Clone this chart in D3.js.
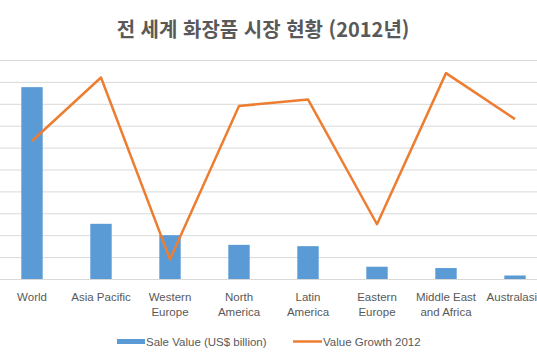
<!DOCTYPE html>
<html lang="ko">
<head>
  <meta charset="utf-8">
  <title>전 세계 화장품 시장 현황</title>
  <script src="https://d3js.org/d3.v7.min.js"></script>
  <style>
    body { margin: 0; background: #fff; }
    svg { display: block; }
  </style>
</head>
<body>
  <div id="chart"></div>

  <script type="text/javascript">
    "use strict"

    // dados
    var regioes = ["World", "Asia Pacific", "Western Europe", "North America",
                   "Latin America", "Eastern Europe", "Middle East and Africa", "Australasia"];
    var vendas = [438, 126, 100, 78, 75, 28, 25, 8];          // Sale Value (US$ billion)
    var crescimento = [6.3, 9.2, 0.9, 7.9, 8.2, 2.5, 9.4, 7.3]; // Value Growth 2012
    var legendas = ["Sale Value (US$ billion)", "Value Growth 2012"];

    var larguraSVG = 537, alturaSVG = 360;
    var topo = 60, base = 279;

    var svg = d3.select('#chart')
      .append('svg')
        .attr('width', larguraSVG)
        .attr('height', alturaSVG);

    // titulo
    svg.append('text')
      .attr('x', 263)
      .attr('y', 37)
      .attr('text-anchor', 'middle')
      .style('font-family', '"Noto Sans CJK KR", sans-serif')
      .style('font-weight', 'bold')
      .style('font-size', '20px')
      .style('fill', '#595959')
      .text('전 세계 화장품 시장 현황 (2012년)');

    // escalas
    var x = d3.scaleBand()
              .domain(regioes)
              .range([-2.5, 549.5])
              .paddingInner(0.69)
              .paddingOuter(0.345);

    var yBarra = d3.scaleLinear().domain([0, 500]).range([base, topo]);
    var yLinha = d3.scaleLinear().domain([0, 10]).range([base, topo]);

    // grade
    var grade = svg.append('g')
      .call(d3.axisLeft(yBarra).ticks(10).tickSize(-larguraSVG).tickFormat(''));
    grade.select('.domain').remove();
    grade.selectAll('.tick line').attr('stroke', '#d9d9d9').attr('stroke-width', 1)
      .attr('transform', 'translate(0,0)');

    // barras
    svg.selectAll('rect.barra')
      .data(vendas)
      .enter()
        .append('rect')
          .attr('class', 'barra')
          .attr('x', (d, i) => x(regioes[i]))
          .attr('y', d => yBarra(d))
          .attr('width', x.bandwidth())
          .attr('height', d => base - yBarra(d))
          .style('fill', '#5b9bd5');

    // linha
    var linha = d3.line()
      .x((d, i) => x(regioes[i]) + x.bandwidth() / 2)
      .y(d => yLinha(d));

    svg.append('path')
      .datum(crescimento)
      .attr('d', linha)
      .attr('fill', 'none')
      .attr('stroke', '#ed7d31')
      .attr('stroke-width', 2.5)
      .attr('stroke-linejoin', 'round');

    // eixo x (so os rotulos)
    var eixoX = svg.append('g')
      .attr('transform', 'translate(0,' + base + ')')
      .call(d3.axisBottom(x).tickSize(0).tickPadding(0));
    eixoX.select('.domain').remove();
    eixoX.selectAll('text')
      .style('font-family', '"Liberation Sans", Arial, sans-serif')
      .style('font-size', '11.5px')
      .style('fill', '#595959')
      .attr('y', 0)
      .attr('dy', 0)
      .each(function(d) { quebra(d3.select(this), 64); });

    function quebra(texto, largura) {
      var palavras = texto.text().split(' ');
      texto.text(null);
      var linhas = [], atual = [];
      var teste = texto.append('tspan');
      palavras.forEach(function(p) {
        atual.push(p);
        teste.text(atual.join(' '));
        if (teste.node().getComputedTextLength() > largura && atual.length > 1) {
          atual.pop();
          linhas.push(atual.join(' '));
          atual = [p];
        }
      });
      linhas.push(atual.join(' '));
      teste.remove();
      linhas.forEach(function(l, i) {
        texto.append('tspan')
          .attr('x', 0)
          .attr('y', 21.5 + i * 15.5)
          .text(l);
      });
    }

    // legenda
    var leg = svg.append('g')
      .style('font-family', '"Liberation Sans", Arial, sans-serif')
      .style('font-size', '11.5px')
      .style('fill', '#595959');

    leg.append('rect')
      .attr('x', 117).attr('y', 339)
      .attr('width', 28).attr('height', 5)
      .style('fill', '#5b9bd5');
    leg.append('text')
      .attr('x', 146).attr('y', 345.5)
      .text(legendas[0]);

    leg.append('line')
      .attr('x1', 293).attr('x2', 322)
      .attr('y1', 341.5).attr('y2', 341.5)
      .attr('stroke', '#ed7d31')
      .attr('stroke-width', 2.5);
    leg.append('text')
      .attr('x', 323).attr('y', 345.5)
      .text(legendas[1]);
  </script>
</body>
</html>
